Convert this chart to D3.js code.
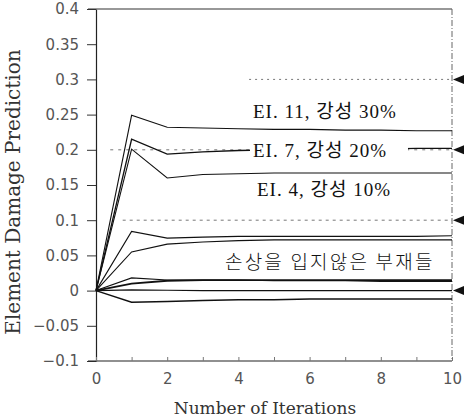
<!DOCTYPE html>
<html>
<head>
<meta charset="utf-8">
<script src="https://cdn.jsdelivr.net/npm/d3@7"></script>
<style>
  body { margin: 0; background: #fff; }
  svg { display: block; }
</style>
</head>
<body>
<svg id="chart" width="464" height="420"></svg>
<script>
// iterations 0..10
var iterations = [0, 1, 2, 3, 4, 5, 6, 7, 8, 9, 10];

// damaged elements
var el11 = [0, 0.249, 0.232, 0.231, 0.230, 0.229, 0.229, 0.228, 0.228, 0.227, 0.227];
var el7  = [0, 0.215, 0.194, 0.197, 0.199, 0.200, 0.200, 0.201, 0.201, 0.202, 0.202];
var el4  = [0, 0.201, 0.160, 0.165, 0.166, 0.167, 0.167, 0.167, 0.167, 0.167, 0.167];

// undamaged elements
var und1 = [0, 0.084, 0.0745, 0.076, 0.077, 0.077, 0.077, 0.077, 0.077, 0.077, 0.078];
var und2 = [0, 0.055, 0.066, 0.069, 0.071, 0.072, 0.072, 0.072, 0.072, 0.072, 0.072];
var und3 = [0, 0.018, 0.015, 0.015, 0.015, 0.014, 0.014, 0.014, 0.013, 0.013, 0.013];
var und4 = [0, 0.010, 0.014, 0.015, 0.015, 0.015, 0.015, 0.015, 0.015, 0.015, 0.015];
var und5 = [0, 0.001, 0.0005, 0, 0, 0, 0, 0, 0, 0, 0];
var und6 = [0, -0.0165, -0.0155, -0.014, -0.013, -0.013, -0.012, -0.012, -0.012, -0.012, -0.012];

// true damage levels (arrows on the right)
var trueDamage = [0.3, 0.2, 0.1, 0];

var yTicks = [0.4, 0.35, 0.3, 0.25, 0.2, 0.15, 0.1, 0.05, 0, -0.05, -0.1];
var yTickLabels = ["0.4", "0.35", "0.3", "0.25", "0.2", "0.15", "0.1", "0.05", "0", "\u22120.05", "\u22120.1"];
var xTicks = [0, 2, 4, 6, 8, 10];

var labels = ["EI. 11, 강성 30%", "EI. 7, 강성 20%", "EI. 4, 강성 10%", "손상을 입지않은 부재들"];

var svg = d3.select("#chart");

var x = d3.scaleLinear().domain([0, 10]).range([96, 452]);
var y = d3.scaleLinear().domain([-0.1, 0.4]).range([361, 9]);

var serif = "'Liberation Serif', 'Noto Sans CJK KR', serif";
var sans = "'DejaVu Sans', sans-serif";

// left axis
var yAxis = svg.append("g").attr("transform", "translate(" + x(0) + ",0)")
  .call(d3.axisLeft(y).tickValues(yTicks).tickFormat(function(d, i) { return yTickLabels[i]; })
    .tickSizeInner(9).tickSizeOuter(0).tickPadding(8));
yAxis.select(".domain").attr("stroke", "#222").attr("stroke-width", 1.2);
yAxis.selectAll(".tick line").attr("stroke", "#333");
yAxis.selectAll("text").attr("font-family", sans).attr("font-size", 15).attr("fill", "#555");

// bottom axis
var xAxis = svg.append("g").attr("transform", "translate(0," + y(-0.1) + ")")
  .call(d3.axisBottom(x).ticks(10).tickFormat(function(d) { return xTicks.indexOf(d) >= 0 ? d : ""; })
    .tickSizeInner(-4).tickSizeOuter(0).tickPadding(12));
xAxis.select(".domain").attr("stroke", "#222").attr("stroke-width", 1.2)
  .attr("d", "M" + (x(0) - 8) + ",0H" + x(10));
xAxis.selectAll(".tick line").attr("stroke", "#777");
xAxis.selectAll("text").attr("font-family", sans).attr("font-size", 15).attr("fill", "#555");

// top border
svg.append("line").attr("x1", x(0) - 8).attr("x2", x(10)).attr("y1", y(0.4)).attr("y2", y(0.4))
  .attr("stroke", "#333").attr("stroke-width", 1.2);
// right border (dash-dot)
svg.append("line").attr("x1", x(10)).attr("x2", x(10)).attr("y1", y(0.4)).attr("y2", y(-0.1))
  .attr("stroke", "#666").attr("stroke-width", 1).attr("stroke-dasharray", "6,2,1,2");

// true damage reference lines
svg.append("line").attr("x1", x(4.3)).attr("x2", x(10)).attr("y1", y(0.3)).attr("y2", y(0.3))
  .attr("stroke", "#777").attr("stroke-dasharray", "2,4");
svg.append("line").attr("x1", x(0.4)).attr("x2", x(10)).attr("y1", y(0.2)).attr("y2", y(0.2))
  .attr("stroke", "#777").attr("stroke-dasharray", "3,5");
svg.append("line").attr("x1", x(0.75)).attr("x2", x(10)).attr("y1", y(0.1)).attr("y2", y(0.1))
  .attr("stroke", "#777").attr("stroke-dasharray", "3,4");

// arrows
svg.selectAll(".arrow").data(trueDamage).enter().append("path").attr("class", "arrow")
  .attr("d", function(d) {
    var ty = y(d), tx = x(10) + 1;
    return "M" + tx + "," + ty + "L" + (tx + 11) + "," + (ty - 4.5) + "L" + (tx + 11) + "," + (ty + 4.5) + "Z";
  }).attr("fill", "#111");

var line = d3.line().x(function(d, i) { return x(iterations[i]); }).y(function(d) { return y(d); });

var series = [
  { v: el11, w: 1.1 }, { v: el7, w: 1.3 }, { v: el4, w: 1.1 },
  { v: und1, w: 1.1 }, { v: und2, w: 1.1 }, { v: und3, w: 1.1 },
  { v: und4, w: 1.8 }, { v: und5, w: 1.2 }, { v: und6, w: 1.4 }
];
svg.selectAll(".series").data(series).enter().append("path").attr("class", "series")
  .attr("d", function(d) { return line(d.v); })
  .attr("fill", "none").attr("stroke", "#111").attr("stroke-width", function(d) { return d.w; });

// annotations
function addLabel(txt, lx, ly, mask, fs) {
  var t = svg.append("text").attr("x", lx).attr("y", ly).text(txt)
    .attr("font-family", serif).attr("font-size", fs).attr("fill", "#111")
    .attr("letter-spacing", 1);
  if (mask) {
    var b = t.node().getBBox();
    svg.append("rect").attr("x", b.x - 3).attr("y", b.y + 2).attr("width", b.width + 24)
      .attr("height", b.height - 4).attr("fill", "#fff");
    t.raise();
  }
  return t;
}
addLabel(labels[0], 253, 118, false, 19);
addLabel(labels[1], 253, 157, true, 19);
addLabel(labels[2], 257, 196, false, 19);
addLabel(labels[3], 225, 269, false, 19).attr("font-family", "'Noto Sans CJK KR', sans-serif")
  .attr("font-weight", 300).attr("letter-spacing", 2.2);

// axis titles
svg.append("text").attr("x", 265).attr("y", 414).attr("text-anchor", "middle")
  .attr("font-family", "'DejaVu Serif', serif").attr("font-size", 17).attr("fill", "#333")
  .text("Number of Iterations");
svg.append("text").attr("transform", "translate(20,192) rotate(-90)").attr("text-anchor", "middle")
  .attr("font-family", "'DejaVu Serif', serif").attr("font-size", 20).attr("fill", "#333")
  .text("Element Damage Prediction");
</script>
</body>
</html>
